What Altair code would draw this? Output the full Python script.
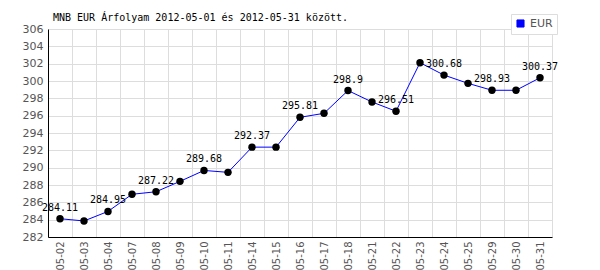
import altair as alt
import pandas as pd

dates = ["05-02", "05-03", "05-04", "05-07", "05-08", "05-09", "05-10", "05-11",
         "05-14", "05-15", "05-16", "05-17", "05-18", "05-21", "05-22", "05-23",
         "05-24", "05-25", "05-29", "05-30", "05-31"]
values = [284.11, 283.85, 284.95, 286.93, 287.22, 288.42, 289.68, 289.46,
          292.37, 292.37, 295.81, 296.27, 298.9, 297.58, 296.51, 302.11,
          300.68, 299.73, 298.93, 298.93, 300.37]
y_ticks = [282, 284, 286, 288, 290, 292, 294, 296, 298, 300, 302, 304, 306]
series = "EUR"
title = "MNB EUR Árfolyam 2012-05-01 és 2012-05-31 között."

labels = [f"{v:g}" if i % 2 == 0 else "" for i, v in enumerate(values)]
df = pd.DataFrame({"date": dates, "value": values, "label": labels, "series": series})

x_enc = alt.X("date:N", sort=dates, title=None,
              scale=alt.Scale(type="band", paddingInner=0, paddingOuter=0),
              axis=alt.Axis(labelAngle=-90, labelAlign="right", labelBaseline="middle",
                            tickBand="extent", ticks=False, grid=True, gridColor="#dddddd",
                            domainColor="black", labelColor="#555555", labelFontSize=10,
                            labelFont="DejaVu Sans", labelPadding=4))
y_enc = alt.Y("value:Q", title=None,
              scale=alt.Scale(domain=[282, 306], nice=False, zero=False),
              axis=alt.Axis(values=y_ticks, ticks=False, grid=True, gridColor="#dddddd",
                            domainColor="black", labelColor="#555555", labelFontSize=11,
                            labelFont="DejaVu Sans", labelPadding=5))

base = alt.Chart(df)

line = base.mark_line(strokeWidth=1).encode(
    x=x_enc, y=y_enc,
    color=alt.Color("series:N", title=None,
                    scale=alt.Scale(range=["#0000ff"]),
                    legend=alt.Legend(orient="none", legendX=463, legendY=-15,
                                      symbolType="square", symbolFillColor="#0000ff",
                                      symbolStrokeColor="#000066", symbolSize=50,
                                      symbolStrokeWidth=1,
                                      labelColor="#555555", labelFontSize=11,
                                      labelFont="DejaVu Sans",
                                      strokeColor="#dddddd", padding=4, fillColor="white")),
)
points = base.mark_circle(size=55, color="black", opacity=1).encode(x=x_enc, y=y_enc)
texts = base.mark_text(dy=-11, font="DejaVu Sans Mono", fontSize=10, color="black").encode(
    x=x_enc, y=y_enc, text="label:N")

chart = alt.layer(line, points, texts).properties(
    width=504, height=208,
    title=alt.Title(title, anchor="start", frame="group", font="DejaVu Sans Mono", fontSize=10,
                    fontWeight="normal", color="black", offset=8, dx=5, dy=17),
    autosize=alt.AutoSizeParams(type="none"),
    padding={"left": 48, "top": 29, "right": 48, "bottom": 33},
).configure_view(stroke=None)

chart.save("out.html", embed_options={"renderer": "svg", "actions": False})
